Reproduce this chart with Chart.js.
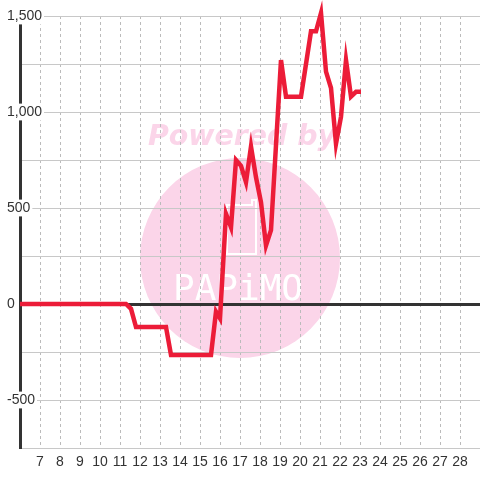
<!DOCTYPE html>
<html>
<head>
<meta charset="utf-8">
<script src="https://cdn.jsdelivr.net/npm/chart.js@4/dist/chart.umd.min.js"></script>
<style>
  html, body { margin: 0; padding: 0; background: #fff; }
  canvas { display: block; }
</style>
</head>
<body>
<canvas id="diffChart" width="480" height="480"></canvas>
<script>
// hour of day (x) and running difference (y)
const hours = [6, 11.3, 11.55, 11.8, 13.3, 13.55, 15.55, 15.8, 16.0, 16.3, 16.55, 16.8, 17.05, 17.3, 17.55, 17.8, 18.05, 18.3, 18.55, 19.05,
               19.3, 20.05, 20.55, 20.8, 21.05, 21.3, 21.55, 21.8, 22.05, 22.3, 22.55, 22.8, 23.05];
const diff = [0, 0, -25, -120, -120, -265, -265, -40, -75, 470, 400, 750, 720, 635, 820, 660, 530, 305, 385, 1270,
              1080, 1080, 1420, 1420, 1515, 1210, 1125, 835, 975, 1270, 1080, 1105, 1105];

const xRange = [6, 29];
const yRange = [-750, 1500];
const yLabelEvery = 500;

const points = hours.map((h, i) => ({ x: h, y: diff[i] }));

// pink watermark behind the grid
const watermark = {
    id: 'watermark',
    beforeDraw(chart) {
        const c = chart.ctx;
        c.save();
        c.fillStyle = '#fbd5e9';
        c.beginPath();
        c.arc(240, 258, 100, 0, Math.PI * 2);
        c.fill();

        c.font = 'italic bold 29px "DejaVu Sans"';
        c.textBaseline = 'alphabetic';
        const w = c.measureText('Powered by').width;
        c.save();
        c.translate(148, 145);
        c.scale(188 / w, 1);
        c.fillText('Powered by', 0, 0);
        c.restore();

        c.strokeStyle = '#fff';
        c.lineWidth = 2;
        c.beginPath();
        c.moveTo(227, 205);
        c.lineTo(252, 205);
        c.lineTo(252, 200);
        c.lineTo(256, 200);
        c.lineTo(256, 254);
        c.lineTo(227, 254);
        c.closePath();
        c.stroke();

        c.fillStyle = '#fff';
        c.font = '36px "DejaVu Sans Mono"';
        c.textBaseline = 'alphabetic';
        c.fillText('PAPiMO', 173, 300);
        c.restore();
    }
};

const ctx = document.getElementById('diffChart').getContext('2d');
new Chart(ctx, {
    type: 'line',
    data: {
        datasets: [{
            data: points,
            borderColor: '#ec1c38',
            borderWidth: 4.5,
            borderJoinStyle: 'miter',
            pointRadius: 0,
            tension: 0,
            fill: false,
            clip: false
        }]
    },
    options: {
        responsive: false,
        animation: false,
        devicePixelRatio: 1,
        layout: { padding: { top: 16, right: 0, bottom: 0, left: 0 } },
        plugins: {
            legend: { display: false },
            tooltip: { enabled: false }
        },
        scales: {
            x: {
                type: 'linear',
                min: xRange[0],
                max: xRange[1],
                afterFit: s => { s.height = 32; s.paddingLeft = 0; s.paddingRight = 0; },
                border: { display: false, dash: [3, 3] },
                grid: {
                    drawTicks: false,
                    color: c => (c.tick && c.tick.value > xRange[0] && c.tick.value < xRange[1]) ? '#bbb' : 'rgba(0,0,0,0)'
                },
                ticks: {
                    stepSize: 1,
                    autoSkip: false,
                    maxRotation: 0,
                    padding: 6,
                    color: '#333',
                    font: { family: '"Liberation Sans", Arial, sans-serif', size: 14 },
                    callback: v => (v > xRange[0] && v < xRange[1]) ? String(v) : ''
                }
            },
            y: {
                min: yRange[0],
                max: yRange[1],
                afterFit: s => { s.width = 20; },
                border: { display: true, color: '#333', width: 3 },
                grid: {
                    drawTicks: false,
                    color: c => (c.tick && c.tick.value === 0) ? '#333' : '#c8c8c8',
                    lineWidth: c => (c.tick && c.tick.value === 0) ? 3 : 1
                },
                ticks: {
                    stepSize: 250,
                    mirror: true,
                    padding: -13,
                    color: '#333',
                    font: { family: '"Liberation Sans", Arial, sans-serif', size: 14 },
                    showLabelBackdrop: true,
                    backdropPadding: { x: 2, y: 0 },
                    backdropColor: c => (c.tick && c.tick.value % yLabelEvery === 0) ? '#fff' : 'rgba(0,0,0,0)',
                    callback: v => v % yLabelEvery === 0 ? v.toLocaleString('en-US') : ''
                }
            }
        }
    },
    plugins: [watermark]
});
</script>
</body>
</html>
